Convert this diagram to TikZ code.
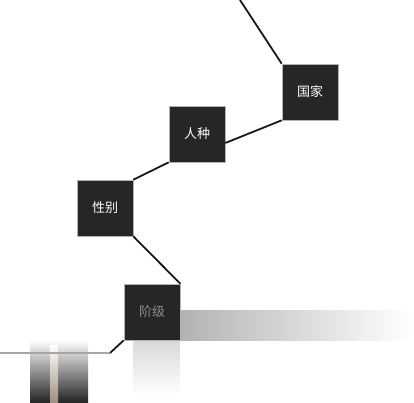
\documentclass[tikz,border=0pt]{standalone}
\usepackage{fontspec}
\newfontfamily\cjk{Noto Sans CJK SC}
\begin{document}
\begin{tikzpicture}[x=1pt,y=-1pt,
  box/.style={draw=gray!60, line width=0.6pt, fill=black!85, minimum width=56pt, minimum height=56pt, inner sep=0pt, text=white, font=\cjk\fontsize{13}{15}\selectfont},
  link/.style={line width=1.8pt, draw=black!90}]
\useasboundingbox (0,0) rectangle (414,402);
% blurred artifacts
\shade[left color=black!30, right color=white] (180,310) rectangle (412,340);
\shade[top color=black!15, bottom color=white] (133,340) rectangle (180,395);
\shade[top color=white, bottom color=black!85] (30,340) rectangle (88,402);
\shade[top color=white, bottom color=orange!25!black!50] (50,345) rectangle (58,402);
% nodes
\node[box] (guojia) at (310,92) {国家};
\node[box] (renzhong) at (197,134) {人种};
\node[box] (xingbie) at (105,208) {性别};
\node[box, text=white!55!black] (jieji) at (152,312) {阶级};
\coordinate (top) at (240,0);
\coordinate (bend) at (110,353);
\coordinate (left) at (0,353);
% connectors
\draw[link] (top) -- (guojia.north west);
\draw[link] (guojia.south west) -- (renzhong.east |- 0,143);
\draw[link] (renzhong.south west) -- (xingbie.north east);
\draw[link] (xingbie.south east) -- (jieji.north east);
\draw[link] (jieji.south west) -- (bend);
\draw[line width=1.2pt, draw=black!35] (bend) -- (left);
\end{tikzpicture}
\end{document}
